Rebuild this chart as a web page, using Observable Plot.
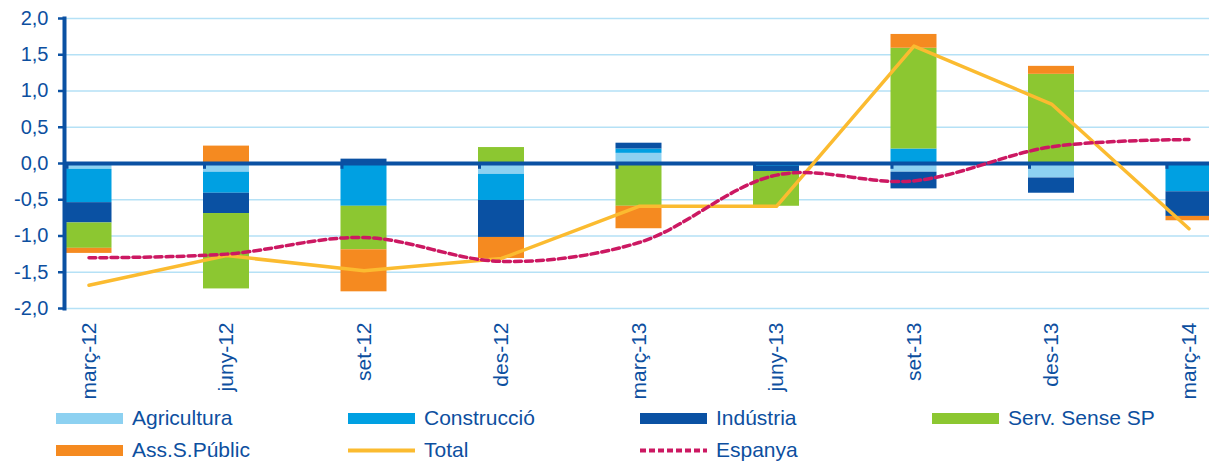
<!DOCTYPE html>
<html>
<head>
<meta charset="utf-8">
<script src="https://cdn.jsdelivr.net/npm/d3@7"></script>
<script src="https://cdn.jsdelivr.net/npm/@observablehq/plot@0.6"></script>
<style>
  html, body { margin: 0; padding: 0; background: #fff; overflow: hidden; }
  #chart { width: 1209px; height: 402px; overflow: hidden; }
  #legend { width: 1209px; padding-left: 56px; box-sizing: border-box; display: grid;
            grid-template-columns: 292px 292px 292px 277px;
            font-family: "Liberation Sans", Arial, sans-serif; font-size: 21px; color: #0d4f9f; }
  .item { height: 32px; display: flex; align-items: center; white-space: nowrap; }
  .sw { width: 67px; height: 11px; margin-right: 9px; flex: none; }
  .sw svg { display: block; }
</style>
</head>
<body>
<div id="chart"></div>
<div id="legend"></div>
<script>
// ---- data ----
const categories = ["març-12","juny-12","set-12","des-12","març-13","juny-13","set-13","des-13","març-14"];
const seriesNames = ["Agricultura","Construcció","Indústria","Serv. Sense SP","Ass.S.Públic"];
const agricultura = [-0.08, -0.12, 0.00, -0.15, 0.14, 0.00, -0.12, -0.20, 0.00];
const construccio = [-0.46, -0.29, -0.59, -0.36, 0.06, -0.04, 0.20, 0.00, -0.39];
const industria   = [-0.28, -0.28, 0.06, -0.51, 0.08, -0.07, -0.23, -0.21, -0.34];
const servSenseSP = [-0.35, -1.04, -0.60, 0.22, -0.59, -0.48, 1.39, 1.23, 0.00];
const assSPublic  = [-0.07, 0.24, -0.58, -0.29, -0.31, 0.00, 0.19, 0.11, -0.06];
const total       = [-1.68, -1.27, -1.48, -1.31, -0.59, -0.59, 1.62, 0.82, -0.90];
const espanya     = [-1.30, -1.25, -1.02, -1.35, -1.09, -0.16, -0.24, 0.23, 0.33];
const yTicks = [-2, -1.5, -1, -0.5, 0, 0.5, 1, 1.5, 2];

const seriesColors = ["#8dd1f1", "#00a0e2", "#0a51a3", "#8cc731", "#f58a20"];
const totalColor = "#fbbb30";
const espanyaColor = "#cc1862";
const axisBlue = "#0a51a3";
const textBlue = "#0d4f9f";

const seriesValues = [agricultura, construccio, industria, servSenseSP, assSPublic];
const bars = [];
seriesNames.forEach((s, si) => categories.forEach((c, ci) => bars.push({cat: c, series: s, value: seriesValues[si][ci]})));
const totalData = categories.map((c, i) => ({cat: c, value: total[i]}));
const espanyaData = categories.map((c, i) => ({cat: c, value: espanya[i]}));

const chart = Plot.plot({
  width: 1209,
  height: 402,
  marginLeft: 64,
  marginRight: 0,
  marginTop: 18,
  marginBottom: 94,
  style: {fontFamily: "'Liberation Sans', Arial, sans-serif", color: textBlue, background: "white", overflow: "hidden"},
  x: {type: "band", domain: categories, range: [-26, 1303], paddingInner: 0.6655, paddingOuter: 0.6655, round: false, axis: null, label: null},
  y: {domain: [-2, 2], axis: null, label: null},
  color: {domain: seriesNames, range: seriesColors},
  marks: [
    Plot.gridY(yTicks, {stroke: "#b5e1f6", strokeOpacity: 1, strokeWidth: 1.5}),
    Plot.barY(bars, {x: "cat", y: "value", fill: "series"}),
    Plot.ruleY([0], {stroke: axisBlue, strokeWidth: 4}),
    Plot.rectY(categories, {x: d => d, y1: 0, y2: -0.08, insetRight: 43, fill: axisBlue}),
    Plot.line(totalData, {x: "cat", y: "value", stroke: totalColor, strokeWidth: 3.5}),
    Plot.line(espanyaData, {x: "cat", y: "value", stroke: espanyaColor, strokeWidth: 3.5, strokeDasharray: "7,4", curve: "catmull-rom"}),
    Plot.frame({anchor: "left", stroke: axisBlue, strokeWidth: 4}),
    Plot.axisY({ticks: yTicks, tickFormat: d => d.toFixed(1).replace(".", ","), tickSize: 6, tickPadding: 10,
                fontSize: 20, stroke: axisBlue, strokeWidth: 2.5, fill: textBlue, label: null}),
    Plot.axisX({tickRotate: -90, tickSize: 0, tickPadding: 14, fontSize: 21, fill: textBlue, label: null})
  ]
});
document.getElementById("chart").appendChild(chart);

// ---- legend ----
const legendItems = [
  {name: "Agricultura", type: "rect", color: seriesColors[0]},
  {name: "Construcció", type: "rect", color: seriesColors[1]},
  {name: "Indústria", type: "rect", color: seriesColors[2]},
  {name: "Serv. Sense SP", type: "rect", color: seriesColors[3]},
  {name: "Ass.S.Públic", type: "rect", color: seriesColors[4]},
  {name: "Total", type: "line", color: totalColor},
  {name: "Espanya", type: "dash", color: espanyaColor}
];
const legend = document.getElementById("legend");
for (const it of legendItems) {
  const item = document.createElement("div");
  item.className = "item";
  const sw = document.createElement("div");
  sw.className = "sw";
  if (it.type === "rect") {
    sw.style.background = it.color;
  } else {
    sw.innerHTML = `<svg width="67" height="11"><line x1="0" x2="67" y1="5.5" y2="5.5" stroke="${it.color}" stroke-width="4" ${it.type === "dash" ? 'stroke-dasharray="6,3"' : ''}/></svg>`;
  }
  const label = document.createElement("span");
  label.textContent = it.name;
  item.appendChild(sw);
  item.appendChild(label);
  legend.appendChild(item);
}
</script>
</body>
</html>
